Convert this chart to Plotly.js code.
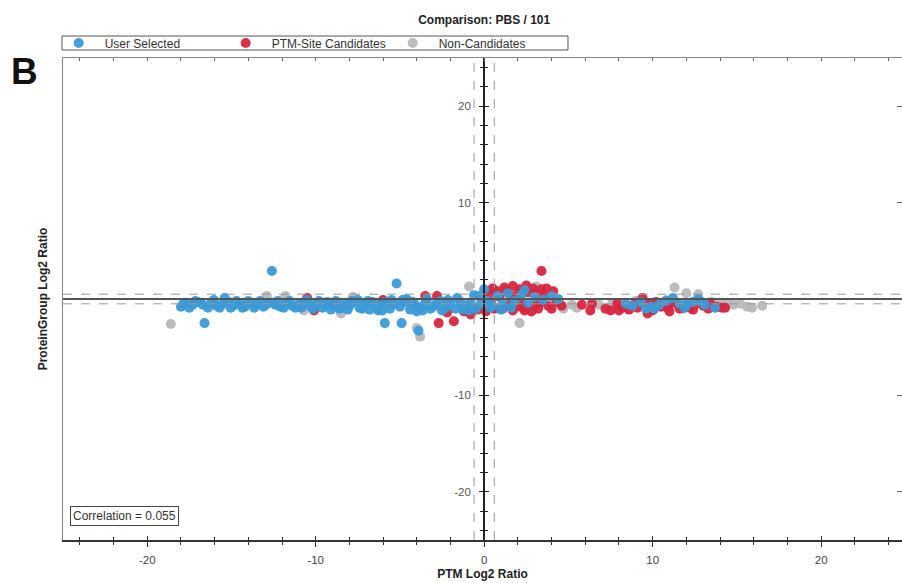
<!DOCTYPE html>
<html>
<head>
<meta charset="utf-8">
<script src="https://cdn.plot.ly/plotly-3.0.1.min.js"></script>
<style>html,body{margin:0;padding:0;background:#fff;}#chart{width:902px;height:583px;}</style>
</head>
<body>
<div id="chart"></div>
<script>
// ---- data ----
const seriesNames = ["User Selected", "PTM-Site Candidates", "Non-Candidates"];

const blueX = [-18.0,-17.7,-17.3,-17.0,-16.7,-16.6,-16.2,-15.9,-15.5,-15.4,-15.2,-14.9,-14.5,-14.2,-13.8,-13.5,-13.1,-12.8,-12.6,-12.4,-12.1,-11.7,-11.4,-11.0,-10.7,-10.3,-10.0,-9.6,-9.3,-8.9,-8.6,-8.3,-8.0,-7.7,-7.4,-7.1,-6.8,-6.5,-6.2,-5.9,-5.9,-5.6,-5.3,-5.2,-5.0,-4.9,-4.7,-4.4,-4.1,-3.9,-3.8,-3.5,-3.2,-2.9,-2.6,-2.3,-2.0,-1.7,-1.4,-1.1,-0.8,-0.5,-0.2,0.0,0.2,0.5,0.8,1.1,1.4,1.8,2.2,2.6,3.0,3.5,4.0,4.4,
  -8.8,-8.1,-7.5,-6.9,-6.3,-5.5,-4.6,-4.0,-3.4,-2.5,-1.6,-0.9,-0.3,
  -17.85,-17.5,-17.15,-16.4,-16.05,-15.7,-15.05,-14.7,-14.35,-14.0,-13.65,-13.3,-12.95,-12.25,-11.9,-11.55,-11.2,-10.85,-10.5,-10.15,-9.8,-9.45,-9.1,-8.45,-7.85,-7.25,-6.65,-6.05,-5.45,-4.85,-4.25,-3.65,-3.05,-2.15,-1.25,-0.6,0.35,1.0,1.6,2.4,
  8.4,8.8,9.3,9.9,10.4,10.8,11.2,11.6,12.0,12.4,12.7,13.1,13.7,9.6,11.9,12.9,10.1];
const blueY = [-0.8,-0.4,-0.6,-0.3,-0.6,-2.5,-0.4,-0.7,-0.5,0.1,-0.3,-0.7,-0.5,-0.8,-0.4,-0.6,-0.8,-0.4,2.9,-0.6,-0.8,-0.4,-0.7,-0.5,-0.3,-0.8,-0.5,-0.9,-0.3,-0.6,-1.0,-0.4,-0.7,-0.3,-0.9,-0.5,-1.1,-0.4,-0.8,-0.3,-2.5,-1.0,-0.5,1.6,-0.8,-2.5,-0.3,-1.1,-0.6,-3.3,-0.9,-0.4,-1.0,-0.6,-0.2,-0.9,-0.5,-1.0,-0.3,-0.7,-0.4,-1.0,-0.5,1.0,-0.2,-0.7,0.3,-0.5,0.6,-0.2,0.4,-0.4,0.2,-0.1,0.3,0.0,
  -0.2,-1.1,-0.1,-0.2,-1.2,-0.1,0.0,-1.3,0.0,-1.2,0.1,-1.2,0.3,
  -0.5,-0.9,-0.2,-0.9,-0.1,-0.9,-0.9,-0.2,-0.9,-0.2,-0.9,-0.2,-0.6,-0.2,-0.9,-0.2,-0.9,-0.9,-0.1,-1.0,-0.2,-0.6,-1.1,-0.9,-0.2,-1.0,-0.3,-1.2,-0.6,-0.1,-0.3,-1.2,-0.8,-0.1,-1.1,0.4,-0.9,-1.1,-0.9,0.9,
  -0.5,-0.7,-0.3,-0.8,-0.6,-0.2,0.1,-0.5,-0.6,-0.3,0.0,-0.6,-0.9,-1.0,-0.9,-0.3,-1.0];

const redX = [-10.5,-10.1,-8.5,-6.0,-3.5,-2.8,-2.7,-1.8,-2.2,-1.2,-0.8,-0.4,
  0.3,0.6,0.8,1.1,1.3,1.5,1.7,1.7,2.0,2.1,2.3,2.4,2.6,2.9,3.0,3.2,3.4,3.4,3.6,3.8,4.1,4.3,4.6,
  0.4,0.9,1.2,1.6,1.9,2.2,2.5,2.8,3.1,3.3,3.7,4.0,0.1,0.5,
  5.8,6.3,6.4,7.2,7.5,
  7.9,8.2,8.6,9.1,9.4,9.7,9.7,10.0,10.5,10.9,11.3,11.6,11.9,12.2,12.6,13.0,13.4,13.8,14.1,14.3,
  8.0,9.0,10.2,11.0,12.4,13.3];
const redY = [0.1,-1.2,-0.9,-0.1,0.3,0.3,-2.5,-2.3,-1.4,-1.3,-1.6,-1.1,
  0.6,-1.0,0.8,-1.0,0.9,-0.6,1.35,-1.2,0.5,1.0,-0.9,-1.2,0.7,1.1,-0.7,-1.0,1.0,2.9,0.4,-0.7,0.8,-0.3,-0.7,
  -0.3,0.2,1.2,0.3,-0.8,-0.3,1.4,-1.3,0.6,-0.4,1.1,-1.0,-1.3,1.1,
  -0.6,-1.2,-0.5,-1.0,-1.2,
  -0.5,-0.9,-1.1,-0.9,0.1,-0.5,-1.5,-1.2,-0.8,-0.9,-0.4,-1.0,-0.7,-0.9,-0.5,-0.7,-0.4,-0.8,-0.9,-0.9,
  -1.2,-0.4,-0.3,-1.3,-1.1,-1.0];

const grayX = [-18.6,-12.9,-11.8,-10.7,-9.0,-8.5,-7.8,-4.0,-3.8,-0.9,0.5,2.1,3.1,4.7,5.2,5.5,6.8,7.6,8.1,9.0,10.0,10.8,11.3,11.3,11.8,12.0,12.7,13.5,14.0,14.4,14.8,15.2,15.6,15.9,16.5];
const grayY = [-2.6,0.3,0.3,-1.2,-0.6,-1.5,0.2,-3.0,-3.9,1.3,1.0,-2.5,1.3,-1.0,-0.6,-0.9,-0.6,-0.4,-0.7,-0.2,-0.4,-0.1,1.2,-0.5,-1.0,0.6,0.5,-0.3,-0.4,-0.4,-0.6,-0.5,-0.8,-0.9,-0.7];

const xTickVals = [-20,-10,0,10,20];
const xTickText = ["-20","-10","0","10","20"];
const yTickVals = [-20,-10,10,20];
const yTickText = ["-20","-10","10","20"];

// ---- styling ----
const FONT = "Arial, 'Liberation Sans', sans-serif";
const XR = [-25, 24.8];
const YR = [-25, 25];
const yPos = (0 - XR[0]) / (XR[1] - XR[0]);
const colors = ["#3a9ad8", "#d8263f", "#b8b8b8"];

function tr(x, y, name, color, rank) {
  return {x: x, y: y, name: name, type: "scatter", mode: "markers", legendrank: rank,
    marker: {color: color, size: 10, opacity: 0.95, line: {width: 0}},
    hoverinfo: "x+y"};
}
// helper traces (invisible) so that the extra axes get drawn
function helper(xa, ya) {
  return {x: grayX, y: grayY, xaxis: xa, yaxis: ya, type: "scatter", mode: "markers",
    marker: {opacity: 0, size: 1}, showlegend: false, hoverinfo: "skip"};
}
const drawData = [
  tr(grayX, grayY, seriesNames[2], colors[2], 3),
  tr(redX, redY, seriesNames[1], colors[1], 2),
  tr(blueX, blueY, seriesNames[0], colors[0], 1),
  helper("x2", "y"), helper("x3", "y"), helper("x", "y2"), helper("x", "y3"), helper("x", "y4")
];

const layout = {
  width: 902, height: 583,
  margin: {l: 63, r: 0, t: 58, b: 43, autoexpand: false},
  paper_bgcolor: "#fff", plot_bgcolor: "#fff",
  font: {family: FONT, size: 12, color: "#333"},
  showlegend: true,
  legend: {orientation: "h", x: -0.0123, xanchor: "left", y: 1.0311, yanchor: "middle",
    bgcolor: "rgba(0,0,0,0)", borderwidth: 0, font: {size: 12, color: "#333"},
    entrywidth: 110, entrywidthmode: "pixels", itemwidth: 42, traceorder: "normal"},
  title: {text: "<b>Comparison: PBS / 101</b>", font: {size: 12, color: "#222"},
    xref: "paper", x: 0.502, xanchor: "center", yref: "container", y: 0.966, yanchor: "middle"},
  xaxis: {range: XR, domain: [0, 1], anchor: "y", showgrid: false, zeroline: false,
    showline: true, linecolor: "#333", linewidth: 2,
    tickmode: "array", tickvals: xTickVals, ticktext: xTickText,
    ticks: "outside", ticklen: 5, tickcolor: "#333", tickwidth: 1,
    minor: {dtick: 2, tick0: 0, ticks: "outside", ticklen: 3, tickcolor: "#333"},
    ticklabelstandoff: 3, tickfont: {size: 11.5, color: "#444"},
    title: {text: "<b>PTM Log2 Ratio</b>", font: {size: 12, color: "#222"}, standoff: 5},
    fixedrange: true},
  xaxis2: {range: XR, overlaying: "x", anchor: "y", side: "bottom", showgrid: false, zeroline: false,
    showline: false, tickmode: "array", tickvals: xTickVals, showticklabels: false,
    ticks: "inside", ticklen: 4, tickcolor: "#333",
    minor: {dtick: 2, tick0: 0, ticks: "inside", ticklen: 3, tickcolor: "#333"}, fixedrange: true},
  xaxis3: {range: XR, overlaying: "x", anchor: "y", side: "top", showgrid: false, zeroline: false,
    showline: true, linecolor: "#888", linewidth: 1.5, showticklabels: false,
    ticks: "inside", ticklen: 3, tickcolor: "#666", dtick: 2, tick0: 0, fixedrange: true},
  yaxis: {range: YR, domain: [0, 1], anchor: "x", showgrid: false, zeroline: false,
    showline: true, linecolor: "#888", linewidth: 1.5, ticks: "", showticklabels: false,
    title: {text: "<b>ProteinGroup Log2 Ratio</b>", font: {size: 12, color: "#222"}, standoff: 11},
    fixedrange: true},
  yaxis2: {range: YR, overlaying: "y", anchor: "free", position: yPos, side: "left",
    showgrid: false, zeroline: false, showline: true, linecolor: "#222", linewidth: 2,
    tickmode: "array", tickvals: yTickVals, ticktext: yTickText,
    ticks: "outside", ticklen: 4, tickcolor: "#222",
    minor: {dtick: 2, tick0: 0, ticks: "outside", ticklen: 3, tickcolor: "#222"},
    ticklabelstandoff: 6, tickfont: {size: 11.5, color: "#555"}, fixedrange: true},
  yaxis3: {range: YR, overlaying: "y", anchor: "free", position: yPos, side: "left",
    showgrid: false, zeroline: false, showline: false, showticklabels: false,
    tickmode: "array", tickvals: yTickVals,
    ticks: "inside", ticklen: 4, tickcolor: "#222",
    minor: {dtick: 2, tick0: 0, ticks: "inside", ticklen: 3, tickcolor: "#222"}, fixedrange: true},
  yaxis4: {range: YR, overlaying: "y", anchor: "free", position: 1, side: "right",
    showgrid: false, zeroline: false, showline: false, showticklabels: false,
    tickmode: "array", tickvals: yTickVals, ticks: "inside", ticklen: 5, tickcolor: "#666", fixedrange: true},
  shapes: [
    {type: "rect", xref: "paper", yref: "paper", x0: -0.0012, x1: 0.6019, y0: 1.0166, y1: 1.0456,
      line: {color: "#555", width: 1}, fillcolor: "rgba(0,0,0,0)", layer: "above"},
    {type: "line", xref: "x", yref: "paper", x0: -0.6, x1: -0.6, y0: 0, y1: 1, layer: "above",
      line: {color: "#999", width: 1, dash: "dash"}},
    {type: "line", xref: "x", yref: "paper", x0: 0.6, x1: 0.6, y0: 0, y1: 1, layer: "above",
      line: {color: "#999", width: 1, dash: "dash"}},
    {type: "line", xref: "paper", yref: "y", x0: 0, x1: 1, y0: 0.5, y1: 0.5, layer: "above",
      line: {color: "#999", width: 1, dash: "dash"}},
    {type: "line", xref: "paper", yref: "y", x0: 0, x1: 1, y0: -0.5, y1: -0.5, layer: "above",
      line: {color: "#999", width: 1, dash: "dash"}},
    {type: "line", xref: "paper", yref: "y", x0: 0, x1: 1, y0: 0, y1: 0, layer: "above",
      line: {color: "#555", width: 2}}
  ],
  annotations: [
    {text: "Correlation = 0.055", xref: "paper", yref: "paper", x: 0.0085, y: 0.029,
      xanchor: "left", yanchor: "bottom", showarrow: false, bordercolor: "#444", borderwidth: 1,
      borderpad: 2, bgcolor: "#fff", font: {size: 12, color: "#333"}},
    {text: "<b>B</b>", xref: "paper", yref: "paper", x: -0.0453, y: 0.973, xanchor: "center", yanchor: "middle",
      showarrow: false, font: {size: 37, color: "#111"}}
  ]
};

Plotly.newPlot("chart", drawData, layout, {displayModeBar: false, staticPlot: true});
</script>
</body>
</html>
